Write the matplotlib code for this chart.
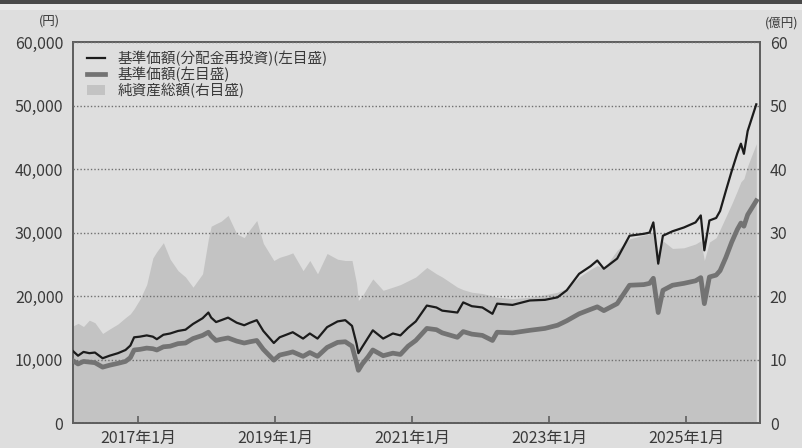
import numpy as np
import pandas as pd
import matplotlib
matplotlib.use("Agg")
import matplotlib.pyplot as plt
from matplotlib.patches import Rectangle

plt.rcParams['font.family'] = ['Noto Sans CJK JP', 'DejaVu Sans']

# dates and values
dates = [
    "2016-01-20", "2016-02-15", "2016-03-15", "2016-04-15", "2016-05-15", "2016-06-25",
    "2016-08-01", "2016-09-15", "2016-10-25", "2016-11-20", "2016-12-10", "2017-01-10",
    "2017-02-15", "2017-03-20", "2017-04-10", "2017-05-15", "2017-06-20", "2017-08-01",
    "2017-09-10", "2017-10-20", "2017-12-10", "2018-01-10", "2018-01-25", "2018-02-20",
    "2018-03-20", "2018-04-25", "2018-06-10", "2018-07-20", "2018-08-20", "2018-09-25",
    "2018-10-30", "2018-12-25", "2019-01-25", "2019-03-10", "2019-04-05", "2019-05-30",
    "2019-07-05", "2019-08-15", "2019-10-05", "2019-11-30", "2020-01-10", "2020-02-15",
    "2020-03-10", "2020-03-20", "2020-04-10", "2020-05-10", "2020-06-05", "2020-07-30",
    "2020-09-20", "2020-10-30", "2020-12-10", "2021-01-20", "2021-03-20", "2021-05-10",
    "2021-06-10", "2021-08-30", "2021-09-30", "2021-11-15", "2022-01-10", "2022-03-05",
    "2022-03-30", "2022-06-20", "2022-09-20", "2022-12-10", "2023-02-15", "2023-04-05",
    "2023-06-10", "2023-08-10", "2023-09-15", "2023-10-20", "2023-12-30", "2024-03-05",
    "2024-05-20", "2024-06-20", "2024-07-10", "2024-08-05", "2024-08-30", "2024-10-20",
    "2024-12-20", "2025-02-20", "2025-03-20", "2025-04-08", "2025-05-05", "2025-06-10",
    "2025-07-01", "2025-08-01", "2025-09-01", "2025-10-01", "2025-10-20", "2025-11-05",
    "2025-11-25", "2026-01-10",
]

# 基準価額(分配金再投資) in yen
nav_reinvested = [
    11300, 10600, 11200, 11000, 11100, 10200, 10600, 11000, 11500, 12200, 13500, 13600,
    13800, 13600, 13200, 13900, 14100, 14500, 14700, 15600, 16500, 17400, 16600, 15900,
    16200, 16600, 15800, 15400, 15800, 16200, 14500, 12600, 13500, 14000, 14300, 13300,
    14100, 13300, 15100, 16000, 16200, 15300, 12500, 11000, 12000, 13400, 14600, 13300,
    14100, 13800, 15000, 16000, 18500, 18200, 17700, 17400, 19000, 18400, 18200, 17200,
    18800, 18600, 19300, 19400, 19800, 20900, 23500, 24700, 25600, 24300, 25900, 29500,
    29800, 30000, 31600, 25100, 29500, 30200, 30800, 31600, 32700, 27200, 31900, 32300,
    33400, 36600, 39700, 42500, 44000, 42400, 46000, 50200,
]

# 基準価額 in yen
nav = [
    9800, 9300, 9700, 9600, 9500, 8800, 9100, 9400, 9700, 10300, 11500, 11600,
    11800, 11700, 11500, 12000, 12100, 12500, 12600, 13300, 13800, 14300, 13700, 13000,
    13200, 13400, 12900, 12600, 12800, 13000, 11600, 9900, 10700, 11000, 11200, 10500,
    11100, 10500, 11900, 12700, 12800, 12100, 9500, 8300, 9300, 10400, 11500, 10600,
    11000, 10800, 12100, 13000, 14900, 14700, 14200, 13500, 14400, 14000, 13800, 13000,
    14300, 14200, 14600, 14900, 15400, 16100, 17200, 17900, 18300, 17700, 18800, 21700,
    21800, 22000, 22800, 17400, 20900, 21700, 22000, 22400, 22900, 18800, 23000, 23300,
    24000, 26100, 28500, 30500, 31500, 31000, 32800, 35000,
]

# 純資産総額 in 億円
net_assets = [
    15.3, 15.7, 15.2, 16.2, 15.8, 14.1, 14.8, 15.6, 16.6, 17.2, 18.0, 19.5,
    21.8, 26.0, 27.0, 28.4, 25.8, 24.0, 23.0, 21.4, 23.5, 29.0, 31.0, 31.4,
    31.8, 32.7, 29.8, 29.2, 30.5, 31.9, 28.3, 25.6, 26.1, 26.5, 26.8, 24.0,
    25.6, 23.5, 26.7, 25.8, 25.6, 25.6, 22.0, 19.3, 20.0, 21.5, 22.7, 20.9,
    21.4, 21.8, 22.4, 23.0, 24.5, 23.5, 23.0, 21.4, 21.0, 20.6, 20.4, 20.0,
    19.8, 19.6, 19.8, 20.2, 20.6, 21.2, 23.0, 24.2, 24.8, 24.3, 27.2, 29.0,
    29.6, 29.8, 30.2, 27.0, 28.7, 27.5, 27.6, 28.2, 28.7, 25.6, 28.5, 29.2,
    30.5, 32.5, 34.5, 36.6, 38.0, 38.5, 40.5, 44.0,
]

labels = ["基準価額(分配金再投資)(左目盛)", "基準価額(左目盛)", "純資産総額(右目盛)"]
x_ticks = ["2017-01-01", "2019-01-01", "2021-01-01", "2023-01-01", "2025-01-01"]
x_tick_labels = ["2017年1月", "2019年1月", "2021年1月", "2023年1月", "2025年1月"]
left_ticks = [0, 10000, 20000, 30000, 40000, 50000, 60000]
right_ticks = [0, 10, 20, 30, 40, 50, 60]

x = pd.to_datetime(dates)

fig = plt.figure(figsize=(8.03, 4.48), dpi=100, facecolor="#dedede")
# dark bar and light strip along the top edge
fig.patches.append(Rectangle((0, 0.978), 1, 0.022, transform=fig.transFigure,
                             facecolor="#e9e9e9", edgecolor="none"))
fig.patches.append(Rectangle((0, 0.992), 1, 0.008, transform=fig.transFigure,
                             facecolor="#4a4a4a", edgecolor="none"))

ax = fig.add_axes([0.0909, 0.0558, 0.8556, 0.8502])
ax2 = ax.twinx()

# area on the right axis, kept behind the left axis
ax2.fill_between(x, 0, net_assets, color="#c3c3c3", linewidth=0, label=labels[2])
ax2.set_facecolor("white")
ax.set_zorder(ax2.get_zorder() + 1)
ax.patch.set_visible(False)

ax.plot(x, nav, color="#737373", linewidth=3.4, zorder=3, label=labels[1])
ax.plot(x, nav_reinvested, color="#1c1c1c", linewidth=1.6, zorder=4, label=labels[0])

ax.set_ylim(0, 60000)
ax2.set_ylim(0, 60)
ax.set_xlim(pd.Timestamp("2016-01-19"), pd.Timestamp("2026-01-30"))

ax.set_yticks(left_ticks)
ax.set_yticklabels([f"{v:,}" for v in left_ticks])
ax2.set_yticks(right_ticks)
ax.set_xticks(pd.to_datetime(x_ticks))
ax.set_xticklabels(x_tick_labels)

ax.yaxis.grid(True, color="#707070", linestyle=(0, (1, 1.5)), linewidth=1.0)
ax.set_axisbelow(False)

for a in (ax, ax2):
    for s in a.spines.values():
        s.set_color("#5f5f5f")
        s.set_linewidth(1.3)
ax.tick_params(axis="y", length=0, labelsize=11.5, colors="#3a3a3a", pad=7)
ax2.tick_params(axis="y", length=0, labelsize=11.5, colors="#3a3a3a", pad=7)
ax.tick_params(axis="x", direction="in", length=5, width=1.2, color="#5f5f5f",
               labelsize=11.5, labelcolor="#3a3a3a", pad=5)

fig.text(0.062, 0.945, "(円)", fontsize=9, color="#3a3a3a", ha="center")
fig.text(0.974, 0.940, "(億円)", fontsize=9, color="#3a3a3a", ha="center")

h1, l1 = ax.get_legend_handles_labels()
h2, l2 = ax2.get_legend_handles_labels()
handles = [h1[1], h1[0], h2[0]]
names = [l1[1], l1[0], l2[0]]
ax.legend(handles, names, loc="upper left", frameon=False, fontsize=10.5,
          handlelength=1.2, handletextpad=0.9, labelspacing=0.05,
          borderaxespad=0.3, borderpad=0.3, labelcolor="#3a3a3a",
          bbox_to_anchor=(0.008, 1.0))

fig.savefig("out.png", dpi=100, facecolor=fig.get_facecolor())
